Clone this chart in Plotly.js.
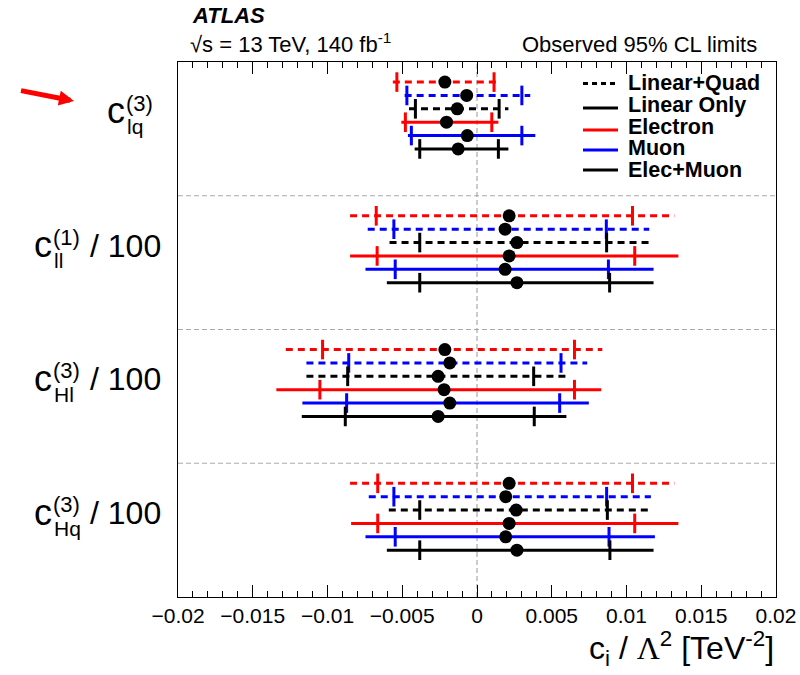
<!DOCTYPE html>
<html>
<head>
<meta charset="utf-8">
<script src="https://cdn.plot.ly/plotly-3.0.1.min.js"></script>
<style>body{margin:0;background:#fff}#chart{width:800px;height:675px}</style>
</head>
<body>
<div id="chart"></div>
<script>
// ---- categories (Wilson coefficients, top to bottom) ----
const coefficients = ['c_lq^(3)', 'c_ll^(1) / 100', 'c_Hl^(3) / 100', 'c_Hq^(3) / 100'];
const labelSub = ['lq', 'll', 'Hl', 'Hq'];
const labelSup = ['(3)', '(1)', '(3)', '(3)'];
const labelSuffix = ['', '/ 100', '/ 100', '/ 100'];

// ---- series (row order inside each coefficient block) ----
const seriesNames = ['Linear+Quad Electron', 'Linear+Quad Muon', 'Linear+Quad Elec+Muon',
                     'Linear Only Electron', 'Linear Only Muon', 'Linear Only Elec+Muon'];

// best-fit values (one per coefficient)
const bestFit = [
  [-0.00215, 0.00215, -0.00215, 0.00215],
  [-0.00069, 0.00188, -0.00182, 0.00192],
  [-0.00132, 0.00267, -0.00260, 0.00262],
  [-0.00204, 0.00215, -0.00220, 0.00215],
  [-0.00065, 0.00188, -0.00182, 0.00192],
  [-0.00126, 0.00267, -0.00260, 0.00267]
];
// outer interval (line extent)
const outerLow = [
  [-0.00563, -0.00849, -0.01279, -0.00849],
  [-0.00484, -0.00731, -0.01141, -0.00724],
  [-0.00455, -0.00585, -0.01141, -0.00590],
  [-0.00506, -0.00849, -0.01342, -0.00842],
  [-0.00462, -0.00746, -0.01168, -0.00746],
  [-0.00417, -0.00603, -0.01172, -0.00603]
];
const outerHigh = [
  [0.00132, 0.01320, 0.00838, 0.01320],
  [0.00356, 0.01152, 0.00737, 0.01163],
  [0.00210, 0.01152, 0.00592, 0.01158],
  [0.00143, 0.01347, 0.00831, 0.01347],
  [0.00390, 0.01181, 0.00748, 0.01190],
  [0.00210, 0.01181, 0.00598, 0.01181]
];
// inner interval (tick marks)
const innerLow = [
  [-0.00536, -0.00674, -0.01033, -0.00664],
  [-0.00469, -0.00556, -0.00858, -0.00556],
  [-0.00412, -0.00383, -0.00865, -0.00383],
  [-0.00479, -0.00668, -0.01051, -0.00664],
  [-0.00439, -0.00547, -0.00872, -0.00547],
  [-0.00383, -0.00383, -0.00881, -0.00383]
];
const innerHigh = [
  [0.00114, 0.01040, 0.00652, 0.01040],
  [0.00300, 0.00865, 0.00562, 0.00867],
  [0.00148, 0.00867, 0.00379, 0.00872],
  [0.00099, 0.01055, 0.00652, 0.01055],
  [0.00300, 0.00879, 0.00553, 0.00883],
  [0.00143, 0.00887, 0.00383, 0.00889]
];

// legend entries
const legendLabels = ['Linear+Quad', 'Linear Only', 'Electron', 'Muon', 'Elec+Muon'];

// ---- styles ----
const seriesColor = ['#ff0000', '#0000ff', '#000000', '#ff0000', '#0000ff', '#000000'];
const seriesDash  = ['7px,5px', '7px,5px', '7px,5px', 'solid', 'solid', 'solid'];
const legendColor = ['#000000', '#000000', '#ff0000', '#0000ff', '#000000'];
const legendDash  = ['5px,4px', 'solid', 'solid', 'solid', 'solid'];

const FONT = 'Liberation Sans, Arial, Helvetica, sans-serif';
const BLOCK = 10, ROW0 = 1.5;
const nG = coefficients.length;

const traces = [];
const dotX = [], dotY = [];
seriesNames.forEach((name, s) => {
  const lx = [], ly = [], tx = [], ty = [];
  coefficients.forEach((c, g) => {
    const y = g * BLOCK + ROW0 + s;
    lx.push(outerLow[s][g], outerHigh[s][g], null); ly.push(y, y, null);
    tx.push(innerLow[s][g], innerHigh[s][g]); ty.push(y, y);
    dotX.push(bestFit[s][g]); dotY.push(y);
  });
  traces.push({type: 'scatter', mode: 'lines', x: lx, y: ly, name: name, showlegend: false,
    line: {color: seriesColor[s], width: 3, dash: seriesDash[s]}, hoverinfo: 'skip'});
  traces.push({type: 'scatter', mode: 'markers', x: tx, y: ty, name: name, showlegend: false,
    marker: {symbol: 'line-ns', size: 14, line: {color: seriesColor[s], width: 3}}, hoverinfo: 'skip'});
});
traces.push({type: 'scatter', mode: 'markers', x: dotX, y: dotY, showlegend: false, name: 'best fit',
  marker: {symbol: 'circle', size: 13, color: '#000'}, hoverinfo: 'skip'});

// ---- geometry helpers (pixels -> paper) ----
const L = 178, R = 24, T = 62, B = 78, W = 800, H = 675;
const PW = W - L - R, PH = H - T - B;
const px = v => (v - L) / PW;
const py = v => (H - B - v) / PH;

const shapes = [];
for (let g = 1; g < nG; g++) {
  shapes.push({type: 'line', xref: 'paper', x0: 0, x1: 1, yref: 'y', y0: g * BLOCK, y1: g * BLOCK,
    line: {color: '#aaaaaa', width: 1, dash: '5px,3px'}, layer: 'below'});
}
shapes.push({type: 'line', xref: 'x', x0: 0, x1: 0, yref: 'paper', y0: 0, y1: 1,
  line: {color: '#999999', width: 1, dash: '5px,3px'}, layer: 'below'});

const annotations = [];
// legend
const legLineY = [83.5, 108, 130, 150, 170];
const legTextY = [82.6, 104.6, 126.6, 147.6, 169.6];
legendLabels.forEach((lab, i) => {
  shapes.push({type: 'line', xref: 'paper', yref: 'paper', x0: px(583), x1: px(618),
    y0: py(legLineY[i]), y1: py(legLineY[i]), line: {color: legendColor[i], width: 3, dash: legendDash[i]}});
  annotations.push({xref: 'paper', yref: 'paper', x: px(626), y: py(legTextY[i]), xanchor: 'left', yanchor: 'middle',
    text: '<b>' + lab + '</b>', showarrow: false, font: {family: FONT, size: 21.5, color: '#000'}});
});

// coefficient labels
const cRight = [127, 54, 54, 54];
coefficients.forEach((c, g) => {
  const y0 = g * BLOCK;
  annotations.push({xref: 'paper', yref: 'y', x: px(cRight[g]), y: y0 + 3.65, xanchor: 'right', yanchor: 'middle',
    text: 'c', showarrow: false, font: {family: FONT, size: 36, color: '#000'}});
  annotations.push({xref: 'paper', yref: 'y', x: px(cRight[g] - 3), y: y0 + 3.1, xanchor: 'left', yanchor: 'middle',
    text: labelSup[g], showarrow: false, font: {family: FONT, size: 22, color: '#000'}});
  annotations.push({xref: 'paper', yref: 'y', x: px(cRight[g] - 2), y: y0 + 4.85, xanchor: 'left', yanchor: 'middle',
    text: labelSub[g], showarrow: false, font: {family: FONT, size: 21, color: '#000'}});
  if (labelSuffix[g]) {
    annotations.push({xref: 'paper', yref: 'y', x: px(163), y: y0 + 3.72, xanchor: 'right', yanchor: 'middle',
      text: labelSuffix[g], showarrow: false, font: {family: FONT, size: 32, color: '#000'}});
  }
});

// header texts
annotations.push({xref: 'paper', yref: 'paper', x: px(190), y: py(30), xanchor: 'left', yanchor: 'bottom',
  text: '<b><i>ATLAS</i></b>', showarrow: false, font: {family: FONT, size: 22, color: '#000'}});
annotations.push({xref: 'paper', yref: 'paper', x: px(188), y: py(59), xanchor: 'left', yanchor: 'bottom',
  text: '√s = 13 TeV, 140 fb<sup>-1</sup>', showarrow: false, font: {family: FONT, size: 22, color: '#000'}});
annotations.push({xref: 'paper', yref: 'paper', x: px(759), y: py(59), xanchor: 'right', yanchor: 'bottom',
  text: 'Observed 95% CL limits', showarrow: false, font: {family: FONT, size: 22, color: '#000'}});
// x axis title
annotations.push({xref: 'paper', yref: 'paper', x: px(776), y: py(673), xanchor: 'right', yanchor: 'bottom',
  text: 'c<sub>i</sub> / <span style="font-family:Liberation Serif, Times New Roman, serif">Λ</span><sup>2</sup> [TeV<sup>-2</sup>]',
  showarrow: false, font: {family: FONT, size: 32, color: '#000'}});
// arrow
annotations.push({xref: 'paper', yref: 'paper', x: px(74), y: py(101), ax: -56, ay: -11, text: ' ',
  showarrow: true, arrowhead: 2, arrowsize: 0.6, arrowwidth: 5, arrowcolor: '#ff0000', standoff: 0});

const layout = {
  width: W, height: H,
  margin: {l: L, r: R, t: T, b: B, pad: 0},
  paper_bgcolor: '#fff', plot_bgcolor: '#fff',
  showlegend: false,
  xaxis: {range: [-0.02, 0.02], tickmode: 'linear', tick0: 0, dtick: 0.005,
    ticks: 'inside', ticklen: 12, tickwidth: 1, tickcolor: '#000',
    minor: {dtick: 0.001, ticks: 'inside', ticklen: 6, tickwidth: 1, tickcolor: '#000', showgrid: false},
    showline: true, linecolor: '#000', linewidth: 1, mirror: 'ticks',
    showgrid: false, zeroline: false, fixedrange: true,
    tickfont: {family: FONT, size: 21, color: '#000'}},
  yaxis: {range: [nG * BLOCK, 0], showticklabels: false, ticks: '', showline: true, mirror: true,
    linecolor: '#000', linewidth: 1, showgrid: false, zeroline: false, fixedrange: true},
  shapes: shapes,
  annotations: annotations
};

Plotly.newPlot('chart', traces, layout, {displayModeBar: false, staticPlot: true});
</script>
</body>
</html>
